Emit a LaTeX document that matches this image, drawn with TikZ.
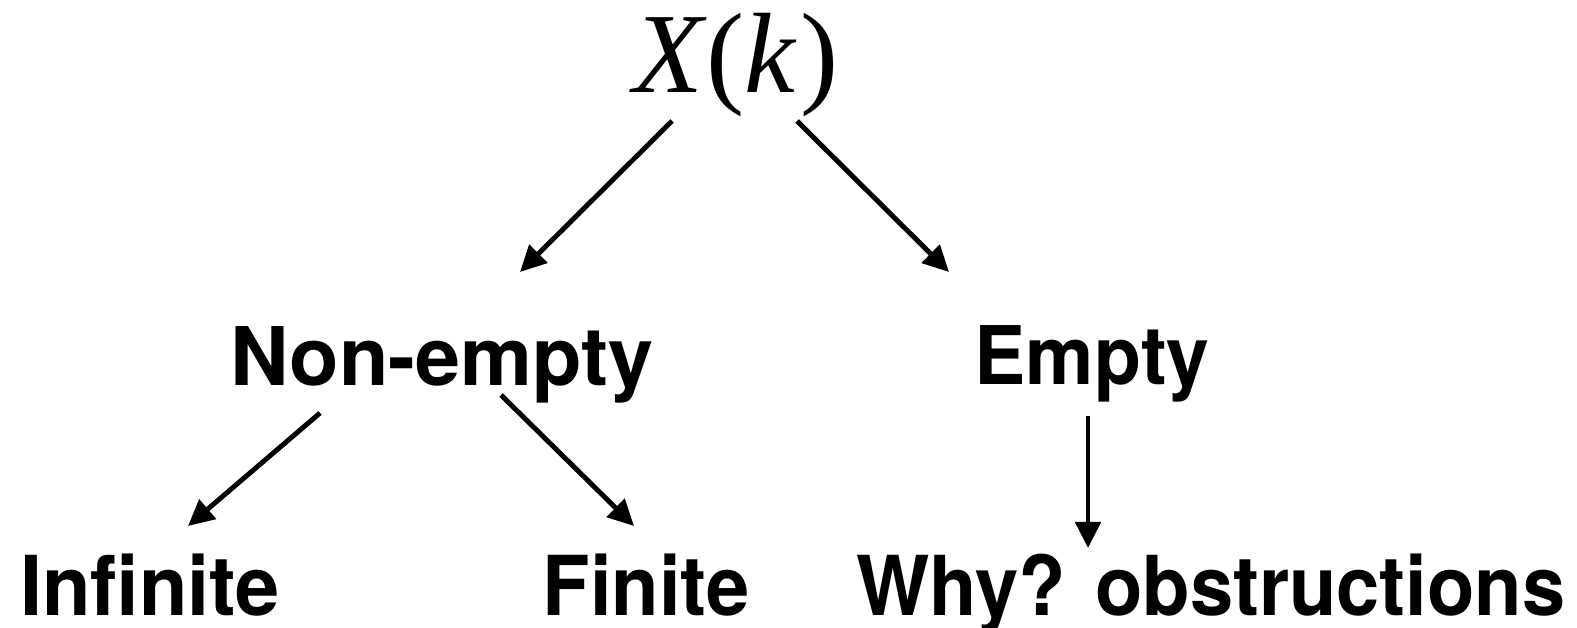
\documentclass[tikz,border=0pt]{standalone}
\usepackage{fontspec}
\setmainfont{TeX Gyre Heros}
\newfontfamily\timesfont{Liberation Serif}
\usetikzlibrary{arrows.meta,calc}

\begin{document}
\begin{tikzpicture}[x=0.01cm,y=-0.01cm,
    lab/.style={anchor=base,inner sep=0pt,font=\fontsize{23}{28}\selectfont\bfseries\addfontfeature{FakeStretch=#1}},
    lab/.default=1,
    low/.style={anchor=base,inner sep=0pt,font=\fontsize{23.5}{28}\selectfont\bfseries\addfontfeature{FakeStretch=#1}},
    arr/.style={line width=1.4pt,-{Triangle[length=0.26cm,width=0.25cm]}}]
  \useasboundingbox (0,0) rectangle (1577,628);
  % top
  \node[anchor=base,inner sep=0pt,font=\fontsize{32.5}{38}\timesfont] (xk) at (736,93) {{\itshape X\/}({\itshape k\/}\kern0.03em)};
  % middle row
  \node[lab] (nonempty) at (442,386) {Non-empty};
  \node[lab=0.95] (empty) at (1092,385) {Empty};
  % bottom row
  \node[low=0.96] (infinite) at (150,615) {Infinite};
  \node[low=0.94] (finite) at (646,615) {Finite};
  \node[low=0.94] (why) at (1211,615) {Why? obstructions};
  % arrows
  \draw[arr] ($(xk.base)+(-64,28)$) -- ($(nonempty.base)+(78,-114)$);
  \draw[arr] ($(xk.base)+(61,28)$) -- ($(empty.base)+(-143,-113)$);
  \draw[arr] ($(nonempty.base)+(-122,27)$) -- ($(infinite.base)+(38,-89)$);
  \draw[arr] ($(nonempty.base)+(59,9)$) -- ($(finite.base)+(-12,-89)$);
  \draw[arr] ($(empty.base)+(-4,31)$) -- ($(why.base)+(-123,-67)$);
\end{tikzpicture}
\end{document}
